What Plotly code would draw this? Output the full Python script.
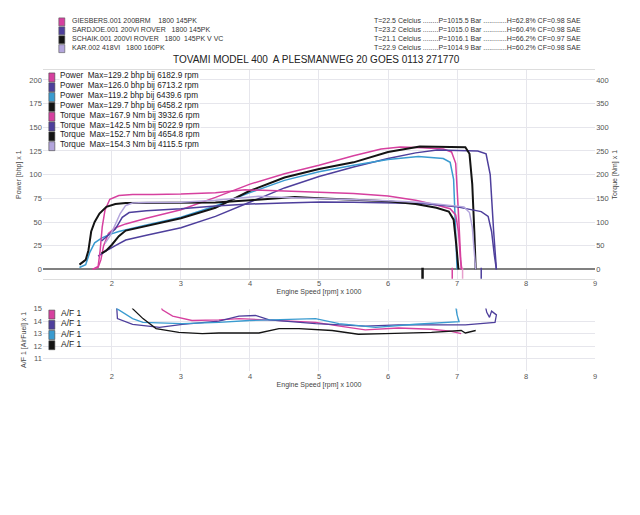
import plotly.graph_objects as go

# ---------------- data ----------------
PINK = "#d6409f"
PURPLE = "#4e3f9c"
CYAN = "#3a9bd0"
BLACK = "#141414"
LAVENDER = "#b3a5dc"
NB = "\u00a0"

header_runs = ["GIESBERS.001 200BRM" + NB * 3 + " 1800 145PK",
               "SARDJOE.001 200VI ROVER" + NB * 2 + " 1800 145PK",
               "SCHAIK.001 200VI ROVER" + NB * 2 + " 1800" + NB + " 145PK V VC",
               "KAR.002 418VI" + NB * 2 + " 1800 160PK"]
header_colors = [PINK, PURPLE, BLACK, LAVENDER]
header_cond = ["T=22.5 Celcius ........P=1015.5 Bar ............H=62.8% CF=0.98 SAE",
               "T=23.2 Celcius ........P=1015.0 Bar ............H=60.4% CF=0.98 SAE",
               "T=21.1 Celcius ........P=1016.1 Bar ............H=66.2% CF=0.97 SAE",
               "T=22.9 Celcius ........P=1014.9 Bar ............H=60.2% CF=0.98 SAE"]
title_text = "TOVAMI MODEL 400" + NB + " A PLESMANWEG 20 GOES 0113 271770"

legend_labels = ["Power" + NB + " Max=129.2 bhp bij 6182.9 rpm",
                 "Power" + NB + " Max=126.0 bhp bij 6713.2 rpm",
                 "Power" + NB + " Max=119.2 bhp bij 6439.6 rpm",
                 "Power" + NB + " Max=129.7 bhp bij 6458.2 rpm",
                 "Torque" + NB + " Max=167.9 Nm bij 3932.6 rpm",
                 "Torque" + NB + " Max=142.5 Nm bij 5022.9 rpm",
                 "Torque" + NB + " Max=152.7 Nm bij 4654.8 rpm",
                 "Torque" + NB + " Max=154.3 Nm bij 4115.5 rpm"]
legend_colors = [PINK, PURPLE, CYAN, BLACK, PINK, PURPLE, BLACK, LAVENDER]

af_labels = ["A/F 1", "A/F 1", "A/F 1", "A/F 1"]
af_colors = [PINK, PURPLE, CYAN, BLACK]

x_ticks = [1, 2, 3, 4, 5, 6, 7, 8, 9]
x_ticktext = ["", "2", "3", "4", "5", "6", "7", "8", "9"]
power_ticks = [0, 25, 50, 75, 100, 125, 150, 175, 200]
torque_ticks = [0, 50, 100, 150, 200, 250, 300, 350, 400]
af_ticks = [11, 12, 13, 14, 15]

# Power curves [bhp] (rpm x 1000)
p1_rpm = [1.72, 1.80, 1.84, 1.88, 1.95, 2.05, 2.2, 2.5, 3.0, 3.5, 4.0, 4.5, 5.0, 5.5, 5.9, 6.18, 6.5, 6.8, 6.92, 6.98, 7.02, 7.06]
p1_val = [0, 2, 10, 25, 38, 44, 48, 54, 63, 76, 90, 101, 110, 120, 127, 129.2, 128.5, 127, 124, 112, 60, 0]

p2_rpm = [1.80, 1.88, 1.95, 2.05, 2.2, 2.5, 3.0, 3.5, 4.0, 4.5, 5.0, 5.5, 6.0, 6.4, 6.71, 7.0, 7.3, 7.42, 7.48, 7.53, 7.57]
p2_val = [14, 18, 21, 25, 31, 36, 44, 56, 71, 86, 98, 108, 117, 123, 126, 125.5, 125, 122, 100, 40, 0]

p3_rpm = [1.53, 1.62, 1.68, 1.75, 1.85, 1.97, 2.1, 2.26, 2.5, 3.0, 3.5, 4.0, 4.5, 5.0, 5.5, 6.0, 6.44, 6.8, 6.9, 6.95, 6.98, 7.0]
p3_val = [2, 5, 18, 28, 33, 37, 40, 43, 47, 55, 67, 81, 94, 103, 110, 116, 119.2, 117, 113, 95, 40, 0]

p4_rpm = [1.85, 1.92, 2.0, 2.1, 2.2, 2.5, 3.0, 3.5, 4.0, 4.5, 5.0, 5.5, 6.0, 6.46, 7.0, 7.12, 7.18, 7.22, 7.25, 7.27]
p4_val = [17, 20, 26, 35, 41, 46, 54, 65, 83, 97, 106, 113, 124, 129.7, 129.5, 129, 122, 90, 40, 0]

# Torque curves [Nm]
t1_rpm = [1.72, 1.80, 1.83, 1.86, 1.90, 1.97, 2.1, 2.3, 2.6, 3.0, 3.5, 3.93, 4.4, 5.0, 5.5, 6.0, 6.4, 6.7, 6.9, 6.98, 7.02, 7.05, 7.07]
t1_val = [0, 6, 40, 90, 125, 148, 156, 158, 158, 159, 162, 167.9, 166, 163, 160, 155, 146, 136, 128, 115, 80, 20, 0]

t2_rpm = [1.85, 1.95, 2.05, 2.15, 2.25, 2.5, 3.0, 3.5, 4.0, 4.5, 5.02, 5.5, 6.0, 6.5, 7.0, 7.35, 7.45, 7.5, 7.54, 7.57]
t2_val = [60, 72, 85, 110, 120, 124, 128, 134, 138, 140, 142.5, 142, 141, 139, 132, 122, 112, 80, 30, 0]

t3_rpm = [1.53, 1.62, 1.66, 1.70, 1.75, 1.82, 1.92, 2.05, 2.2, 2.5, 3.0, 3.5, 4.0, 4.65, 5.0, 5.5, 6.0, 6.4, 6.7, 6.88, 6.95, 6.99, 7.02]
t3_val = [10, 20, 40, 80, 100, 118, 132, 138, 140, 140, 140, 141, 146, 152.7, 150, 147, 144, 138, 130, 122, 105, 50, 0]

t4_rpm = [1.9, 1.97, 2.05, 2.12, 2.2, 2.3, 2.5, 3.0, 3.5, 4.12, 4.5, 5.0, 5.5, 6.0, 6.5, 6.9, 7.1, 7.18, 7.22, 7.25, 7.27]
t4_val = [55, 70, 95, 118, 135, 140, 141, 142, 146, 154.3, 152, 150, 148, 145, 141, 136, 132, 120, 90, 35, 0]

# small rpm markers below the zero line
mark_rpm = [6.5, 6.93, 7.08, 7.35]
mark_val = [-5, -5, -5, -5]
mark_colors = [BLACK, PINK, "#e7a0cc", PURPLE]

# A/F curves
af1_rpm = [2.65, 2.73, 2.88, 3.16, 3.55, 3.84, 4.23, 4.6, 4.95, 5.3, 5.67, 6.15, 6.63, 6.9, 7.06]
af1_val = [16, 14.9, 14.4, 14.05, 14.1, 14.2, 14.1, 14.0, 13.9, 13.6, 13.3, 13.45, 13.35, 13.2, 13.0]

af2_rpm = [2.06, 2.08, 2.3, 2.69, 3.02, 3.55, 3.84, 4.08, 4.28, 4.95, 5.67, 6.15, 7.12, 7.55, 7.57, 7.5, 7.47, 7.43, 7.41]
af2_val = [16, 14.2, 13.74, 13.5, 13.74, 14.0, 14.4, 14.45, 14.1, 13.8, 13.6, 13.7, 13.7, 13.9, 14.5, 14.8, 14.3, 14.7, 15.2]

af3_rpm = [2.05, 2.07, 2.3, 2.45, 3.02, 3.55, 3.99, 4.95, 5.29, 5.82, 6.4, 6.8, 7.03, 7.0, 6.98]
af3_val = [16, 15.0, 14.2, 13.9, 13.8, 13.9, 14.05, 14.2, 13.8, 13.5, 13.75, 13.9, 13.95, 14.5, 15.2]

af4_rpm = [2.25, 2.3, 2.45, 2.64, 2.97, 3.31, 3.55, 4.13, 4.42, 4.71, 5.19, 5.57, 5.96, 6.63, 7.06, 7.12, 7.27]
af4_val = [16, 15.0, 14.2, 13.4, 13.1, 13.0, 13.05, 13.05, 13.4, 13.4, 13.25, 12.95, 13.0, 13.1, 13.25, 13.05, 13.25]

# ---------------- figure ----------------
W, H = 640, 515
def px(x):
    return x / W
def py(y):
    return 1 - y / H

FONT = "Liberation Sans, Arial"
fig = go.Figure()

power_sets = [(p1_rpm, p1_val, PINK, 1.5), (p2_rpm, p2_val, PURPLE, 1.5),
              (p3_rpm, p3_val, CYAN, 1.5), (p4_rpm, p4_val, BLACK, 2.0)]
torque_sets = [(t1_rpm, t1_val, PINK, 1.5), (t2_rpm, t2_val, PURPLE, 1.5),
               (t3_rpm, t3_val, BLACK, 2.0), (t4_rpm, t4_val, LAVENDER, 1.5)]
af_sets = [(af1_rpm, af1_val, PINK), (af2_rpm, af2_val, PURPLE),
           (af3_rpm, af3_val, CYAN), (af4_rpm, af4_val, BLACK)]

for (r, v, c, w), name in zip(power_sets, legend_labels[:4]):
    fig.add_trace(go.Scatter(x=r, y=v, mode="lines", line=dict(color=c, width=w),
                             xaxis="x", yaxis="y", showlegend=False, name=name))
for (r, v, c, w), name in zip(torque_sets, legend_labels[4:]):
    fig.add_trace(go.Scatter(x=r, y=v, mode="lines", line=dict(color=c, width=w),
                             xaxis="x", yaxis="y2", showlegend=False, name=name))
for (r, v, c), name in zip(af_sets, af_labels):
    fig.add_trace(go.Scatter(x=r, y=v, mode="lines", line=dict(color=c, width=1.3),
                             xaxis="x2", yaxis="y3", showlegend=False, name=name))

fig.add_trace(go.Scatter(x=mark_rpm, y=mark_val, mode="markers", xaxis="x", yaxis="y",
                         marker=dict(symbol="line-ns", size=9, color=mark_colors,
                                     line=dict(color=mark_colors, width=[2.5, 1.5, 1.5, 1.5])),
                         showlegend=False))

tickfont = dict(family=FONT, size=7.5, color="#555")
titlefont = dict(family=FONT, size=7, color="#444")
GRID = "#e6e6ec"

x_dom = [px(43), px(597)]
fig.update_layout(
    width=W, height=H, margin=dict(l=0, r=0, t=0, b=0),
    paper_bgcolor="white", plot_bgcolor="white", showlegend=False,
    xaxis=dict(domain=x_dom, range=[1, 9], tickvals=x_ticks, ticktext=x_ticktext,
               anchor="y", showgrid=True, gridcolor=GRID, ticks="", tickfont=tickfont,
               ticklabelstandoff=-3,
               showline=True, linecolor="#dddddd", mirror=True, zeroline=False,
               title=dict(text="Engine Speed [rpm] x 1000", font=titlefont, standoff=0)),
    yaxis=dict(domain=[py(277), py(67)], range=[-10, 210], tickvals=power_ticks,
               anchor="x", showgrid=True, gridcolor=GRID, ticks="", tickfont=tickfont,
               zeroline=True, zerolinecolor="#808080", zerolinewidth=2,
               showline=False,
               title=dict(text="Power [bhp] x 1", font=titlefont, standoff=6)),
    yaxis2=dict(overlaying="y", side="right", anchor="x", range=[-20, 420],
                tickvals=torque_ticks, showgrid=False, zeroline=False, ticks="",
                tickfont=tickfont,
                title=dict(text="Torque [Nm] x 1", font=titlefont, standoff=4)),
    xaxis2=dict(domain=x_dom, range=[1, 9], tickvals=x_ticks, ticktext=x_ticktext,
                anchor="y3", showgrid=True, gridcolor=GRID, ticks="", tickfont=tickfont,
                ticklabelstandoff=-1,
                zeroline=False, showline=False,
                title=dict(text="Engine Speed [rpm] x 1000", font=titlefont, standoff=0)),
    yaxis3=dict(domain=[py(370), py(307)], range=[10, 15], tickvals=af_ticks,
                anchor="x2", showgrid=True, gridcolor=GRID, ticks="", tickfont=tickfont,
                zeroline=False, showline=False,
                title=dict(text="A/F 1 [AirFuel] x 1", font=titlefont, standoff=6)),
)

shapes = []
annotations = []

# header
for i, (lab, col, cond) in enumerate(zip(header_runs, header_colors, header_cond)):
    yc = 18 + 9 * i
    shapes.append(dict(type="rect", xref="paper", yref="paper",
                       x0=px(59), x1=px(65), y0=py(yc + 4), y1=py(yc - 4),
                       fillcolor=col, line=dict(color="#555", width=0.6)))
    annotations.append(dict(text=lab, xref="paper", yref="paper", x=px(70), y=py(yc - 1.5),
                            xanchor="left", yanchor="middle", showarrow=False,
                            font=dict(family=FONT, size=7, color="#333")))
    annotations.append(dict(text=cond, xref="paper", yref="paper", x=px(373), y=py(yc - 1.5),
                            xanchor="left", yanchor="middle", showarrow=False,
                            font=dict(family=FONT, size=7, color="#333")))

annotations.append(dict(text=title_text, xref="paper", yref="paper", x=px(317), y=py(56),
                        xanchor="center", yanchor="middle", showarrow=False,
                        font=dict(family=FONT, size=10, color="#222")))

# main legend
for i, (lab, col) in enumerate(zip(legend_labels, legend_colors)):
    yc = 74 + 9.9 * i
    shapes.append(dict(type="rect", xref="paper", yref="paper",
                       x0=px(49), x1=px(55), y0=py(yc + 4.5), y1=py(yc - 4.5),
                       fillcolor=col, line=dict(color="#444", width=0.6)))
    annotations.append(dict(text=lab, xref="paper", yref="paper", x=px(59), y=py(yc - 1.5),
                            xanchor="left", yanchor="middle", showarrow=False, bgcolor="white",
                            borderpad=0,
                            font=dict(family=FONT, size=8.2, color="#222")))

# A/F legend
for i, (lab, col) in enumerate(zip(af_labels, af_colors)):
    yc = 313 + 10.3 * i
    shapes.append(dict(type="rect", xref="paper", yref="paper",
                       x0=px(49), x1=px(55), y0=py(yc + 4.5), y1=py(yc - 4.5),
                       fillcolor=col, line=dict(color="#444", width=0.6)))
    annotations.append(dict(text=lab, xref="paper", yref="paper", x=px(59), y=py(yc - 1.5),
                            xanchor="left", yanchor="middle", showarrow=False,
                            font=dict(family=FONT, size=8.5, color="#222")))

fig.update_layout(shapes=shapes, annotations=annotations)
fig.write_html("out.html")
